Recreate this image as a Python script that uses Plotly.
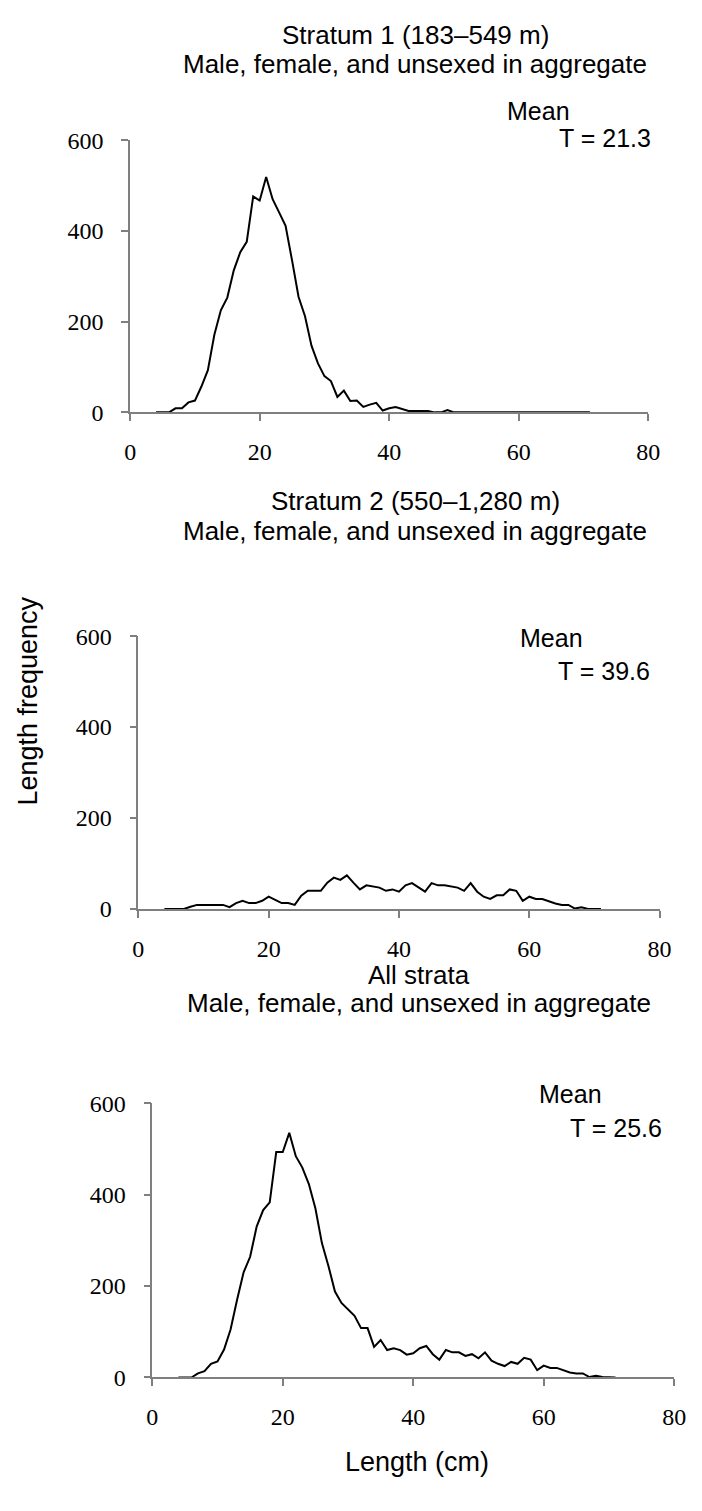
import plotly.graph_objects as go

W, H = 702, 1511      # browser window
PAD = 8               # default page margin around the figure
FW, FH = W - 2 * PAD, H - 2 * PAD

# length classes (cm)
lengths = list(range(4, 72))

# Stratum 1 (183-549 m)
freq_s1 = [0, 0, 0, 9, 9, 22, 26, 57, 93, 171, 225, 253, 313, 353, 376, 476,
           467, 519, 470, 441, 411, 335, 255, 212, 147, 108, 80, 69, 34, 48,
           25, 26, 12, 17, 21, 4, 9, 12, 7, 3, 3, 3, 3, 0, 0, 5, 0,
           0, 0, 0, 0, 0, 0, 0, 0, 0, 0, 0, 0, 0, 0, 0, 0, 0, 0, 0, 0, 0]

# Stratum 2 (550-1,280 m)
freq_s2 = [0, 0, 0, 0, 5, 9, 9, 9, 9, 9, 4, 13, 18, 13, 13, 18, 27, 20, 13,
           13, 9, 29, 40, 40, 40, 58, 69, 64, 74, 58, 43, 52, 49, 47, 40, 43,
           38, 52, 57, 47, 38, 57, 52, 52, 49, 47, 40, 57, 38, 27, 22, 30, 30,
           43, 40, 18, 27, 22, 22, 17, 12, 9, 9, 1, 4, 0, 0, 0]

# All strata
freq_all = [0, 0, 0, 9, 14, 30, 35, 61, 105, 170, 230, 264, 330, 366, 383,
            493, 493, 535, 484, 459, 423, 370, 294, 244, 188, 163, 150, 135,
            108, 108, 67, 82, 60, 64, 60, 50, 53, 64, 69, 51, 39, 60, 55, 55,
            47, 51, 42, 55, 37, 30, 25, 34, 30, 43, 39, 16, 26, 21, 21, 16,
            11, 9, 9, 1, 4, 1, 0, 0]

titles = ["Stratum 1 (183\u2013549 m)", "Stratum 2 (550\u20131,280 m)", "All strata"]
subtitle = "Male, female, and unsexed in aggregate"
means = ["21.3", "39.6", "25.6"]

x_ticks = [0, 20, 40, 60, 80]
y_ticks = [0, 200, 400, 600]


# window pixel -> paper fraction
def px(x):
    return (x - PAD) / FW


def py(y):
    return 1 - (y - PAD) / FH


# panel boxes in window pixels: (left, right, top(600), bottom(0))
boxes = [(127.3, 659.3, 129.3, 406.3),
         (135.7, 671.0, 634.0, 911.7),
         (150.0, 686.0, 1109.3, 1388.5)]

axis_col = '#7f7f7f'
tick_font = dict(family='Liberation Serif', size=24, color='black')

fig = go.Figure()
series = [freq_s1, freq_s2, freq_all]
layout = {}
for i, (ys, box) in enumerate(zip(series, boxes)):
    n = '' if i == 0 else str(i + 1)
    fig.add_trace(go.Scatter(
        x=lengths, y=ys, mode='lines',
        line=dict(color='black', width=2),
        xaxis='x' + n, yaxis='y' + n, showlegend=False,
    ))
    l, r, t, b = box
    layout['xaxis' + n] = dict(
        domain=[px(l), px(r)], range=[0, 80], anchor='y' + n,
        tickvals=x_ticks, showline=True, linecolor=axis_col, linewidth=1.5,
        ticks='outside', ticklen=7, tickcolor=axis_col, tickwidth=1.5,
        showgrid=False, zeroline=False, tickfont=tick_font,
        ticklabelstandoff=10,
    )
    layout['yaxis' + n] = dict(
        domain=[py(b), py(t)], range=[0, 600], anchor='x' + n,
        tickvals=y_ticks, showline=True, linecolor=axis_col, linewidth=1.5,
        ticks='outside', ticklen=7, tickcolor=axis_col, tickwidth=1.5,
        showgrid=False, zeroline=False, tickfont=tick_font,
        ticklabelstandoff=13,
    )

txt_font = dict(family='Liberation Sans', size=26, color='black')
annotations = []

# panel titles
title_pos = [(420, 22, 52), (420, 496, 527), (424, 979, 1007)]
for title, (cx, y1, y2) in zip(titles, title_pos):
    annotations.append(dict(xref='paper', yref='paper', x=px(cx), y=py(y1),
                            xanchor='center', yanchor='middle', text=title,
                            font=txt_font, showarrow=False))
    annotations.append(dict(xref='paper', yref='paper', x=px(cx), y=py(y2),
                            xanchor='center', yanchor='middle', text=subtitle,
                            font=txt_font, showarrow=False))

# mean labels
mean_font = dict(family='Liberation Sans', size=25, color='black')
mean_pos = [(512, 100, 566, 127), (526, 636, 565, 670), (545, 1100, 577, 1135)]
for m, (mx, my, tx, ty) in zip(means, mean_pos):
    annotations.append(dict(xref='paper', yref='paper', x=px(mx), y=py(my),
                            xanchor='left', yanchor='middle', text='Mean',
                            font=mean_font, showarrow=False))
    annotations.append(dict(xref='paper', yref='paper', x=px(tx), y=py(ty),
                            xanchor='left', yanchor='middle', text='T = ' + m,
                            font=mean_font, showarrow=False))

# axis titles
annotations.append(dict(xref='paper', yref='paper', x=px(22), y=py(700),
                        xanchor='center', yanchor='middle', text='Length frequency',
                        textangle=-90, font=dict(family='Liberation Sans', size=27, color='black'),
                        showarrow=False))
annotations.append(dict(xref='paper', yref='paper', x=px(422), y=py(1475),
                        xanchor='center', yanchor='middle', text='Length (cm)',
                        font=dict(family='Liberation Sans', size=27, color='black'),
                        showarrow=False))

fig.update_layout(
    width=FW, height=FH,
    margin=dict(l=0, r=0, t=0, b=0),
    paper_bgcolor='white', plot_bgcolor='white',
    annotations=annotations,
    **layout
)

fig.write_html("out.html", config={'displayModeBar': False})
